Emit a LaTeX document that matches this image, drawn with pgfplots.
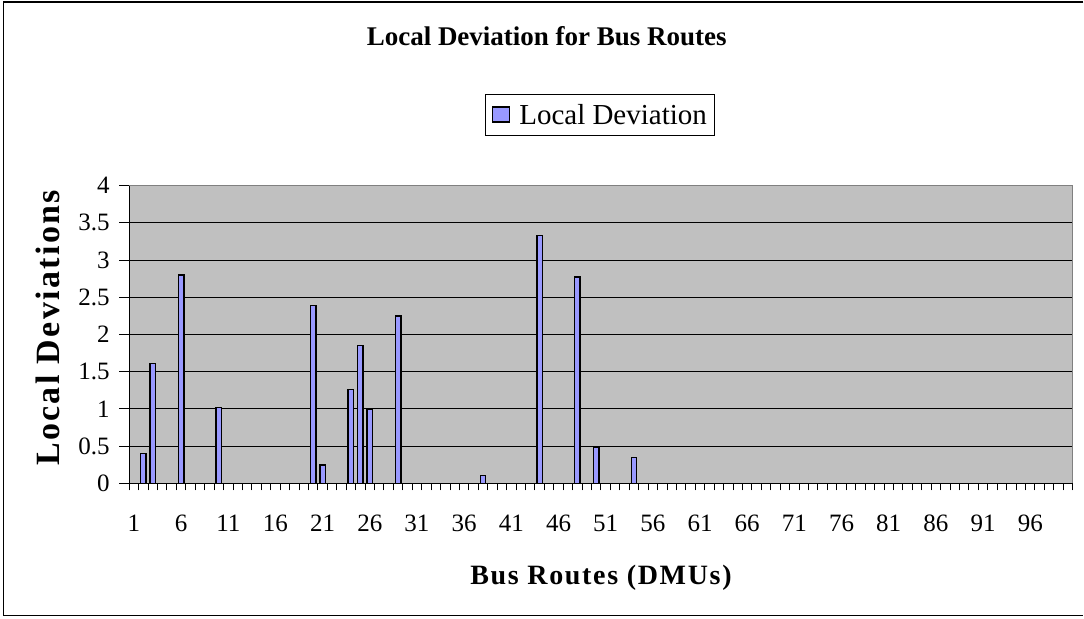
\documentclass[border=0pt]{standalone}
\usepackage{fontspec}
\setmainfont{Liberation Serif}
\newfontfamily\xlabfont[LetterSpace=6]{Liberation Serif}
\newfontfamily\ylabfont[LetterSpace=7]{Liberation Serif}
\usepackage{pgfplots}
\pgfplotsset{compat=1.18}
\definecolor{plotbg}{HTML}{C0C0C0}
\definecolor{barblue}{HTML}{9999FF}
\definecolor{bordergray}{HTML}{808080}
\pgfplotsset{
  ybar legend/.style={
    /pgfplots/legend image code/.code={\draw[fill=barblue, draw=black, line width=1.8pt] (0pt,-7pt) rectangle (17pt,8pt);}},
}
\pgfplotstableread{
x y
2 0.40
3 1.61
6 2.80
10 1.02
20 2.39
21 0.25
24 1.26
25 1.85
26 1.00
29 2.25
38 0.11
44 3.33
48 2.77
50 0.49
54 0.35
}\devtable
\begin{document}
\begin{tikzpicture}
\path (0pt,0pt) rectangle (1084pt,619pt);
\draw[black, line width=1.2pt] (1084pt,617pt) -- (3.5pt,617pt) -- (3.5pt,3.3pt) -- (1084pt,3.3pt);
\begin{axis}[
  at={(129.3pt,135.3pt)}, anchor=south west,
  width=944pt, height=298pt, scale only axis,
  xmin=0.5, xmax=100.5, ymin=0, ymax=4,
  ybar, bar width=5.5pt, bar shift=0pt,
  axis background/.style={fill=plotbg},
  axis line style={draw=bordergray, line width=1pt},
  xtick={1,6,...,96},
  minor xtick={0.5,1.5,...,100.5},
  xtick pos=bottom, ytick pos=left,
  major tick length=0pt,
  minor tick length=7pt,
  ytick={0,0.5,...,4},
  yticklabels={0,0.5,1,1.5,2,2.5,3,3.5,4},
  ytick style={black, line width=1pt, /pgfplots/major tick length=10pt},
  xtick style={black, line width=1pt},
  minor x tick style={black, line width=1pt},
  tick align=outside,
  ymajorgrids,
  major grid style={black, line width=1pt},
  /pgf/number format/assume math mode=true,
  tick label style={font=\fontsize{25}{27}\selectfont, inner sep=0pt},
  yticklabel style={anchor=east, xshift=-19.5pt},
  xticklabel style={anchor=base, yshift=-47.7pt},
  title={Local Deviation for Bus Routes},
  title style={at={(axis description cs:0.4425,1.482)}, anchor=center, font=\fontsize{27}{30}\selectfont\bfseries},
  xlabel={Bus Routes (DMUs)},
  xlabel style={at={(axis description cs:0.5,-0.3164)}, anchor=center, font=\fontsize{28}{30}\selectfont\xlabfont\bfseries},
  ylabel={Local Deviations},
  ylabel style={at={(axis description cs:-0.0861,0.522)}, anchor=center, font=\fontsize{34}{36}\selectfont\ylabfont\bfseries},
  legend style={at={(axis description cs:0.4992,1.237)}, anchor=center, draw=black, line width=1pt,
    font=\fontsize{29}{31}\selectfont, inner xsep=6pt, inner ysep=8pt,
    /tikz/every odd column/.append style={column sep=7pt}},
  after end axis/.code={
    \draw[black, line width=1pt] (rel axis cs:0,1) -- (rel axis cs:0,0) -- (rel axis cs:1,0);
  },
]
\addplot[fill=barblue, draw=black, line width=1.4pt]
  table[x=x, y=y] {\devtable};
\addlegendentry{Local Deviation}
\end{axis}
\end{tikzpicture}
\end{document}
